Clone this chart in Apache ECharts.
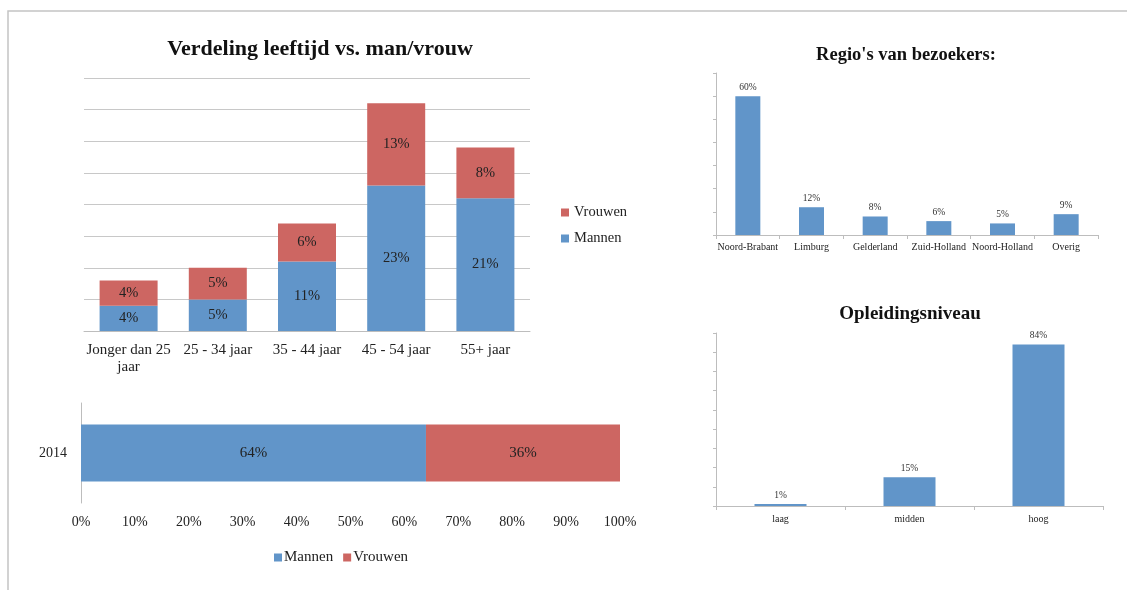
<!DOCTYPE html>
<html>
<head>
<meta charset="utf-8">
<script src="https://cdn.jsdelivr.net/npm/echarts@6/dist/echarts.min.js"></script>
<style>
  html, body { margin: 0; padding: 0; background: #fff; }
  #main { width: 1127px; height: 590px; }
</style>
</head>
<body>
<div id="main"></div>
<script>
// leeftijd vs. man/vrouw
var ageCats = ["Jonger dan 25\njaar", "25 - 34 jaar", "35 - 44 jaar", "45 - 54 jaar", "55+ jaar"];
var ageMannen = [4, 5, 11, 23, 21];
var ageVrouwen = [4, 5, 6, 13, 8];

// totaal 2014
var yearCats = ["2014"];
var totMannen = [64];
var totVrouwen = [36];

// regio's
var regioCats = ["Noord-Brabant", "Limburg", "Gelderland", "Zuid-Holland", "Noord-Holland", "Overig"];
var regioVals = [60, 12, 8, 6, 5, 9];

// opleiding
var oplCats = ["laag", "midden", "hoog"];
var oplVals = [1, 15, 84];

var BLUE = "#6195c9";
var RED = "#cd6662";
var FONT = "Liberation Serif";

var chart = echarts.init(document.getElementById("main"));

var pct = function (p) { return p.value + "%"; };

chart.setOption({
  animation: false,
  textStyle: { fontFamily: FONT, color: "#222" },
  title: [
    { text: "Verdeling leeftijd vs. man/vrouw", left: 315, top: 33, textAlign: "center",
      textStyle: { fontFamily: FONT, fontSize: 22, fontWeight: "bold", color: "#111" } },
    { text: "Regio's van bezoekers:", left: 901, top: 41, textAlign: "center",
      textStyle: { fontFamily: FONT, fontSize: 18.5, fontWeight: "bold", color: "#111" } },
    { text: "Opleidingsniveau", left: 905, top: 300, textAlign: "center",
      textStyle: { fontFamily: FONT, fontSize: 19, fontWeight: "bold", color: "#111" } }
  ],
  legend: [
    { data: ["Vrouwen", "Mannen"], orient: "vertical", left: 556, top: 200, itemGap: 11,
      itemWidth: 8, itemHeight: 8, icon: "rect",
      textStyle: { fontFamily: FONT, fontSize: 14.5, color: "#222" } },
    { data: ["Mannen", "Vrouwen"], left: 269, top: 545, itemGap: 10,
      itemWidth: 8, itemHeight: 8, icon: "rect",
      textStyle: { fontFamily: FONT, fontSize: 15, color: "#222", padding: [0, 0, 0, -3] } }
  ],
  grid: [
    { left: 84, width: 446, top: 78, height: 253 },
    { left: 81, width: 539, top: 403, height: 100 },
    { left: 716, width: 382, top: 73, height: 162 },
    { left: 716, width: 387, top: 333, height: 173 }
  ],
  xAxis: [
    { gridIndex: 0, type: "category", data: ageCats,
      axisLine: { lineStyle: { color: "#bdbdbd" } }, axisTick: { show: false },
      axisLabel: { fontFamily: FONT, fontSize: 15, color: "#222", margin: 11, lineHeight: 17, interval: 0 } },
    { gridIndex: 1, type: "value", min: 0, max: 100, interval: 10,
      axisLine: { show: false }, axisTick: { show: false }, splitLine: { show: false },
      axisLabel: { fontFamily: FONT, fontSize: 14, color: "#222", margin: 12, formatter: "{value}%" } },
    { gridIndex: 2, type: "category", data: regioCats,
      axisLine: { lineStyle: { color: "#bdbdbd" } },
      axisTick: { show: true, length: 4, lineStyle: { color: "#bdbdbd" } },
      axisLabel: { fontFamily: FONT, fontSize: 10, color: "#222", margin: 7, interval: 0 } },
    { gridIndex: 3, type: "category", data: oplCats,
      axisLine: { lineStyle: { color: "#bdbdbd" } },
      axisTick: { show: true, length: 4, lineStyle: { color: "#bdbdbd" } },
      axisLabel: { fontFamily: FONT, fontSize: 10, color: "#222", margin: 8, interval: 0 } }
  ],
  yAxis: [
    { gridIndex: 0, type: "value", min: 0, max: 40, interval: 5,
      axisLabel: { show: false }, axisLine: { show: false }, axisTick: { show: false },
      splitLine: { lineStyle: { color: "#c8c8c8" } } },
    { gridIndex: 1, type: "category", data: yearCats,
      axisLine: { show: true, lineStyle: { color: "#bdbdbd" } }, axisTick: { show: false },
      axisLabel: { fontFamily: FONT, fontSize: 14, color: "#222", margin: 14 } },
    { gridIndex: 2, type: "value", min: 0, max: 70, interval: 10,
      axisLabel: { show: false }, splitLine: { show: false },
      axisLine: { show: true, lineStyle: { color: "#bdbdbd" } },
      axisTick: { show: true, length: 3, lineStyle: { color: "#bdbdbd" } } },
    { gridIndex: 3, type: "value", min: 0, max: 90, interval: 10,
      axisLabel: { show: false }, splitLine: { show: false },
      axisLine: { show: true, lineStyle: { color: "#bdbdbd" } },
      axisTick: { show: true, length: 3, lineStyle: { color: "#bdbdbd" } } }
  ],
  series: [
    { name: "Mannen", type: "bar", xAxisIndex: 0, yAxisIndex: 0, stack: "age", data: ageMannen,
      barWidth: 58, itemStyle: { color: BLUE },
      label: { show: true, position: "inside", formatter: pct, fontFamily: FONT, fontSize: 14.5, color: "#222" } },
    { name: "Vrouwen", type: "bar", xAxisIndex: 0, yAxisIndex: 0, stack: "age", data: ageVrouwen,
      barWidth: 58, itemStyle: { color: RED },
      label: { show: true, position: "inside", formatter: pct, fontFamily: FONT, fontSize: 14.5, color: "#222" } },
    { name: "Mannen", type: "bar", xAxisIndex: 1, yAxisIndex: 1, stack: "tot", data: totMannen,
      barWidth: 57, itemStyle: { color: BLUE },
      label: { show: true, position: "inside", formatter: pct, fontFamily: FONT, fontSize: 15, color: "#222" } },
    { name: "Vrouwen", type: "bar", xAxisIndex: 1, yAxisIndex: 1, stack: "tot", data: totVrouwen,
      barWidth: 57, itemStyle: { color: RED },
      label: { show: true, position: "inside", formatter: pct, fontFamily: FONT, fontSize: 15, color: "#222" } },
    { name: "Regio", type: "bar", xAxisIndex: 2, yAxisIndex: 2, data: regioVals,
      barWidth: 25, itemStyle: { color: BLUE },
      label: { show: true, position: "top", distance: 4, formatter: pct, fontFamily: FONT, fontSize: 9.5, color: "#333" } },
    { name: "Opleiding", type: "bar", xAxisIndex: 3, yAxisIndex: 3, data: oplVals,
      barWidth: 52, itemStyle: { color: BLUE },
      label: { show: true, position: "top", distance: 4, formatter: pct, fontFamily: FONT, fontSize: 9.5, color: "#333" } }
  ],
  graphic: [
    { type: "polyline", shape: { points: [[8, 590], [8, 11], [1127, 11]] },
      style: { stroke: "#c4c4c4", lineWidth: 1.5, fill: null } }
  ]
});
</script>
</body>
</html>
